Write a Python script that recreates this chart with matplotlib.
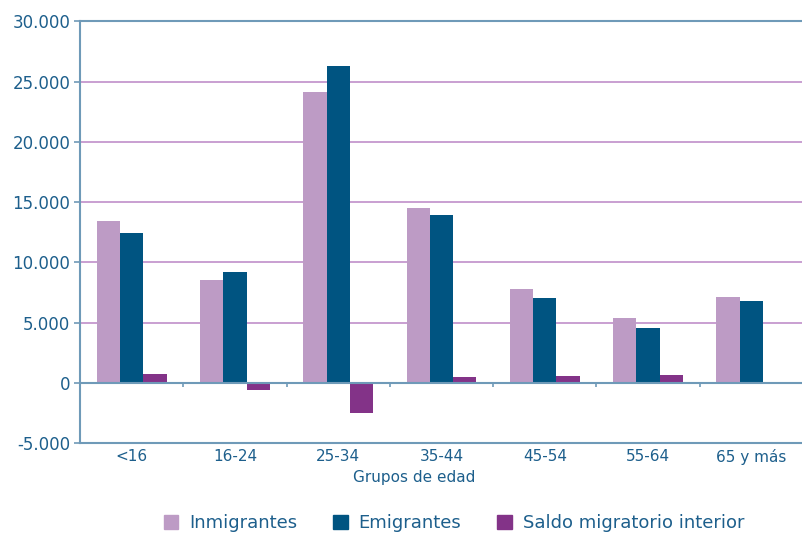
import numpy as np
import matplotlib
matplotlib.use("Agg")
import matplotlib.pyplot as plt
from matplotlib.patches import Patch

# ─── Data ─────────────────────────────────────────────────────────────────────
grupos = ["<16", "16-24", "25-34", "35-44", "45-54", "55-64", "65 y más"]
inmigrantes = [13450, 8500, 24100, 14500, 7800, 5400, 7100]
emigrantes = [12400, 9200, 26300, 13900, 7050, 4550, 6800]
saldo = [700, -600, -2500, 450, 550, 650, 0]

yticks = [-5000, 0, 5000, 10000, 15000, 20000, 25000, 30000]
ytick_labels = ["-5.000", "0", "5.000", "10.000", "15.000", "20.000", "25.000", "30.000"]

c_inm = "#bd9bc5"
c_emi = "#005481"
c_sal = "#833388"
c_txt = "#1d5f8c"
c_axis = "#6f9ab8"
c_grid = "#c08fc9"

# ─── Plot ─────────────────────────────────────────────────────────────────────
fig = plt.figure(figsize=(8.03, 5.35), dpi=100)
ax = fig.add_axes([80 / 803, 1 - 443 / 535, 1 - 80 / 803, (443 - 21.3) / 535])

x = np.arange(len(grupos))
w = 0.225
ax.bar(x - w, inmigrantes, w, color=c_inm, zorder=3)
ax.bar(x, emigrantes, w, color=c_emi, zorder=3)
ax.bar(x + w, saldo, w, color=c_sal, zorder=3)

ax.set_xlim(-0.5, len(grupos) - 0.5)
ax.set_ylim(-5000, 30000)

for yv in yticks[2:-1]:
    ax.axhline(yv, color=c_grid, lw=1.2, zorder=1)
ax.axhline(30000, color=c_axis, lw=1.5, zorder=1, clip_on=False)
ax.axhline(0, color=c_axis, lw=1.5, zorder=4)
ax.vlines(x[:-1] + 0.5, -380, 0, color=c_axis, lw=1.2, zorder=4)

for s in ["top", "right"]:
    ax.spines[s].set_visible(False)
ax.spines["left"].set_color(c_axis)
ax.spines["left"].set_linewidth(1.5)
ax.spines["bottom"].set_color(c_axis)
ax.spines["bottom"].set_linewidth(1.5)

ax.set_yticks(yticks)
ax.set_yticklabels(ytick_labels, fontsize=12, color=c_txt)
ax.tick_params(axis="y", length=4, color=c_axis, width=1.2, pad=3)
ax.set_xticks(x)
ax.set_xticklabels(grupos, fontsize=11, color=c_txt)
ax.tick_params(axis="x", length=0, pad=4)
ax.set_xlabel("Grupos de edad", fontsize=11, color=c_txt)
ax.xaxis.set_label_coords(0.462, -0.065)

handles = [Patch(color=c_inm, label="Inmigrantes"),
           Patch(color=c_emi, label="Emigrantes"),
           Patch(color=c_sal, label="Saldo migratorio interior")]
leg = fig.legend(handles=handles, loc="center", bbox_to_anchor=(454 / 803, 1 - 523 / 535),
                 ncol=3, frameon=False, handlelength=0.8, handleheight=0.8,
                 handletextpad=0.6, columnspacing=2.0, prop={"size": 13})
for t in leg.get_texts():
    t.set_color(c_txt)

fig.savefig("out.png", dpi=100)
